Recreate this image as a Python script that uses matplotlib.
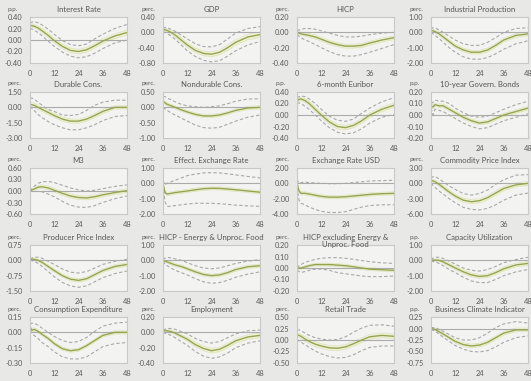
import numpy as np
import matplotlib.pyplot as plt

# ============================================================
# DATA
# ============================================================
months = [0, 1, 2, 4, 6, 9, 12, 16, 20, 24, 28, 32, 36, 42, 48]

titles = ["Interest Rate", "GDP", "HICP", "Industrial Production",
          "Durable Cons.", "Nondurable Cons.", "6-month Euribor", "10-year Govern. Bonds",
          "M3", "Effect. Exchange Rate", "Exchange Rate USD", "Commodity Price Index",
          "Producer Price Index", "HICP - Energy & Unproc. Food",
          "HICP excluding Energy &\nUnproc. Food", "Capacity Utilization",
          "Consumption Expenditure", "Employment", "Retail Trade", "Business Climate Indicator"]

units = ["p.p.", "perc.", "perc.", "perc.",
         "perc.", "perc.", "p.p.", "p.p.",
         "perc.", "perc.", "perc.", "perc.",
         "perc.", "perc.", "perc.", "p.p.",
         "perc.", "perc.", "perc.", "p.p."]

ymin = [-0.40, -0.80, -0.40, -2.00, -3.00, -1.00, -0.40, -0.20, -0.60, -2.00,
        -4.00, -6.00, -1.50, -2.00, -0.20, -2.00, -0.30, -0.40, -0.50, -0.75]
ymax = [0.40, 0.40, 0.20, 1.00, 1.50, 0.50, 0.40, 0.20, 0.60, 1.00,
        2.00, 3.00, 0.75, 1.00, 0.20, 1.00, 0.15, 0.20, 0.50, 0.25]
ystep = [0.20, 0.40, 0.20, 1.00, 1.50, 0.50, 0.20, 0.10, 0.30, 1.00,
         2.00, 3.00, 0.75, 1.00, 0.10, 1.00, 0.15, 0.20, 0.25, 0.25]

median = [
    [0.25, 0.25, 0.24, 0.21, 0.16, 0.08, -0.01, -0.11, -0.18, -0.20, -0.17, -0.10, -0.02, 0.07, 0.13],
    [0.05, 0.07, 0.05, 0.00, -0.07, -0.20, -0.33, -0.47, -0.55, -0.57, -0.52, -0.40, -0.26, -0.12, -0.06],
    [0.00, -0.01, -0.02, -0.03, -0.04, -0.06, -0.09, -0.13, -0.16, -0.18, -0.18, -0.17, -0.14, -0.10, -0.07],
    [0.10, 0.10, 0.05, -0.10, -0.30, -0.60, -0.90, -1.15, -1.30, -1.30, -1.15, -0.85, -0.50, -0.20, -0.10],
    [0.30, 0.25, 0.20, 0.00, -0.20, -0.50, -0.80, -1.15, -1.35, -1.35, -1.15, -0.80, -0.40, 0.00, 0.00],
    [0.20, 0.15, 0.10, 0.05, 0.00, -0.08, -0.15, -0.23, -0.28, -0.28, -0.25, -0.18, -0.10, -0.02, 0.00],
    [0.25, 0.27, 0.28, 0.25, 0.20, 0.10, 0.00, -0.12, -0.20, -0.22, -0.18, -0.10, 0.00, 0.10, 0.17],
    [0.08, 0.07, 0.09, 0.08, 0.08, 0.05, 0.02, -0.02, -0.05, -0.07, -0.06, -0.03, 0.00, 0.03, 0.06],
    [0.00, 0.03, 0.05, 0.10, 0.11, 0.08, 0.02, -0.06, -0.13, -0.17, -0.18, -0.15, -0.10, -0.04, 0.01],
    [0.00, -0.60, -0.70, -0.65, -0.60, -0.55, -0.50, -0.42, -0.35, -0.32, -0.33, -0.37, -0.42, -0.50, -0.58],
    [0.00, -1.00, -1.30, -1.30, -1.40, -1.55, -1.70, -1.80, -1.80, -1.75, -1.65, -1.55, -1.45, -1.35, -1.30],
    [0.50, 0.50, 0.30, -0.20, -0.80, -1.70, -2.50, -3.30, -3.60, -3.40, -2.80, -1.90, -1.00, -0.30, 0.00],
    [0.05, 0.05, 0.05, 0.00, -0.10, -0.30, -0.50, -0.75, -0.92, -0.98, -0.90, -0.70, -0.50, -0.30, -0.20],
    [0.00, -0.05, -0.10, -0.20, -0.30, -0.40, -0.55, -0.75, -0.92, -1.00, -0.95, -0.80, -0.60, -0.42, -0.35],
    [0.00, 0.00, 0.00, 0.01, 0.02, 0.03, 0.03, 0.03, 0.025, 0.02, 0.01, 0.00, -0.01, -0.015, -0.02],
    [0.00, 0.01, 0.02, 0.00, -0.10, -0.30, -0.50, -0.75, -0.95, -1.05, -1.00, -0.80, -0.55, -0.30, -0.20],
    [0.05, 0.02, 0.03, 0.01, -0.02, -0.06, -0.11, -0.16, -0.18, -0.17, -0.13, -0.08, -0.03, 0.00, 0.00],
    [0.02, 0.02, 0.02, 0.01, -0.01, -0.05, -0.09, -0.16, -0.21, -0.24, -0.22, -0.17, -0.11, -0.06, -0.04],
    [0.12, 0.10, 0.08, 0.02, -0.03, -0.09, -0.13, -0.17, -0.18, -0.15, -0.08, 0.00, 0.07, 0.10, 0.08],
    [0.00, -0.01, -0.02, -0.07, -0.12, -0.20, -0.28, -0.35, -0.38, -0.36, -0.30, -0.20, -0.10, -0.03, -0.03],
]

outer_hi = [
    [0.30, 0.31, 0.32, 0.30, 0.26, 0.19, 0.10, -0.01, -0.08, -0.10, -0.07, 0.02, 0.10, 0.20, 0.27],
    [0.10, 0.13, 0.12, 0.08, 0.03, -0.07, -0.17, -0.30, -0.37, -0.38, -0.32, -0.17, -0.02, 0.10, 0.15],
    [0.02, 0.03, 0.04, 0.05, 0.05, 0.04, 0.02, -0.01, -0.04, -0.06, -0.06, -0.05, -0.03, -0.01, 0.00],
    [0.20, 0.30, 0.30, 0.15, 0.00, -0.25, -0.50, -0.75, -0.85, -0.85, -0.65, -0.35, 0.00, 0.25, 0.30],
    [0.90, 0.90, 0.80, 0.50, 0.20, -0.20, -0.40, -0.75, -0.80, -0.70, -0.30, 0.20, 0.50, 0.70, 0.70],
    [0.35, 0.35, 0.30, 0.25, 0.18, 0.10, 0.05, 0.02, 0.00, 0.02, 0.05, 0.12, 0.20, 0.27, 0.28],
    [0.30, 0.32, 0.33, 0.32, 0.28, 0.20, 0.10, -0.02, -0.09, -0.11, -0.07, 0.03, 0.12, 0.23, 0.30],
    [0.10, 0.11, 0.13, 0.12, 0.12, 0.10, 0.06, 0.02, -0.01, -0.02, -0.01, 0.02, 0.05, 0.09, 0.12],
    [0.00, 0.07, 0.12, 0.20, 0.24, 0.25, 0.22, 0.15, 0.08, 0.03, 0.00, 0.02, 0.06, 0.12, 0.16],
    [0.20, -0.10, 0.00, 0.10, 0.20, 0.35, 0.50, 0.60, 0.68, 0.70, 0.68, 0.62, 0.55, 0.45, 0.35],
    [0.50, 0.00, 0.10, 0.15, 0.10, 0.05, 0.00, -0.05, -0.05, 0.00, 0.10, 0.20, 0.30, 0.35, 0.40],
    [1.00, 1.30, 1.30, 0.90, 0.30, -0.50, -1.20, -2.00, -2.30, -2.00, -1.30, -0.20, 0.70, 1.60, 1.70],
    [0.08, 0.12, 0.15, 0.15, 0.10, -0.05, -0.20, -0.42, -0.58, -0.62, -0.55, -0.38, -0.20, -0.05, 0.05],
    [0.05, 0.15, 0.20, 0.15, 0.10, 0.00, -0.15, -0.35, -0.50, -0.55, -0.50, -0.35, -0.20, -0.05, 0.05],
    [0.00, 0.02, 0.03, 0.05, 0.06, 0.075, 0.085, 0.09, 0.09, 0.085, 0.075, 0.065, 0.055, 0.045, 0.04],
    [0.05, 0.15, 0.20, 0.20, 0.12, -0.05, -0.25, -0.50, -0.65, -0.70, -0.60, -0.40, -0.15, 0.05, 0.20],
    [0.08, 0.09, 0.09, 0.07, 0.04, 0.00, -0.04, -0.08, -0.10, -0.09, -0.05, 0.01, 0.06, 0.09, 0.10],
    [0.03, 0.04, 0.05, 0.05, 0.04, 0.01, -0.02, -0.08, -0.12, -0.14, -0.12, -0.07, -0.02, 0.02, 0.03],
    [0.22, 0.22, 0.20, 0.15, 0.10, 0.05, 0.02, 0.00, 0.01, 0.07, 0.17, 0.26, 0.32, 0.33, 0.30],
    [0.02, 0.02, 0.02, -0.02, -0.06, -0.13, -0.20, -0.25, -0.25, -0.20, -0.10, 0.02, 0.10, 0.15, 0.12],
]

outer_lo = [
    [0.20, 0.19, 0.17, 0.13, 0.07, -0.02, -0.11, -0.21, -0.28, -0.31, -0.29, -0.23, -0.15, -0.05, 0.00],
    [0.00, 0.00, -0.03, -0.10, -0.18, -0.33, -0.48, -0.63, -0.73, -0.77, -0.74, -0.62, -0.48, -0.33, -0.24],
    [-0.03, -0.05, -0.07, -0.10, -0.12, -0.16, -0.20, -0.25, -0.29, -0.31, -0.31, -0.29, -0.26, -0.21, -0.16],
    [0.00, -0.10, -0.20, -0.40, -0.65, -1.00, -1.30, -1.60, -1.75, -1.75, -1.65, -1.40, -1.10, -0.75, -0.55],
    [0.10, -0.10, -0.30, -0.70, -1.00, -1.40, -1.70, -2.00, -2.20, -2.20, -2.00, -1.70, -1.30, -0.90, -0.80],
    [0.00, -0.05, -0.10, -0.18, -0.25, -0.35, -0.45, -0.58, -0.66, -0.68, -0.65, -0.55, -0.45, -0.32, -0.25],
    [0.20, 0.21, 0.20, 0.15, 0.10, 0.00, -0.10, -0.22, -0.30, -0.33, -0.31, -0.24, -0.14, -0.04, 0.01],
    [0.06, 0.00, 0.05, 0.04, 0.03, 0.00, -0.03, -0.07, -0.10, -0.12, -0.11, -0.08, -0.05, -0.02, 0.01],
    [0.00, -0.01, -0.02, -0.01, -0.02, -0.08, -0.15, -0.27, -0.37, -0.42, -0.43, -0.38, -0.30, -0.20, -0.13],
    [-0.10, -1.20, -1.50, -1.50, -1.45, -1.40, -1.35, -1.30, -1.30, -1.30, -1.33, -1.37, -1.42, -1.47, -1.50],
    [-0.50, -2.20, -2.60, -2.80, -3.10, -3.40, -3.65, -3.80, -3.80, -3.70, -3.40, -3.10, -2.90, -2.80, -2.80],
    [0.00, -0.40, -0.80, -1.50, -2.10, -3.00, -3.80, -4.70, -5.10, -5.20, -4.90, -4.20, -3.30, -2.30, -1.90],
    [0.00, -0.02, -0.05, -0.15, -0.30, -0.55, -0.80, -1.08, -1.25, -1.32, -1.25, -1.05, -0.85, -0.65, -0.52],
    [-0.05, -0.25, -0.35, -0.50, -0.65, -0.80, -0.95, -1.20, -1.40, -1.50, -1.45, -1.30, -1.10, -0.90, -0.75],
    [-0.02, -0.03, -0.04, -0.03, -0.02, -0.01, -0.01, -0.02, -0.04, -0.05, -0.06, -0.07, -0.075, -0.075, -0.07],
    [-0.05, -0.08, -0.10, -0.20, -0.35, -0.60, -0.80, -1.10, -1.35, -1.45, -1.45, -1.25, -1.00, -0.75, -0.60],
    [0.02, -0.01, -0.03, -0.06, -0.10, -0.14, -0.19, -0.24, -0.26, -0.26, -0.24, -0.19, -0.14, -0.11, -0.10],
    [0.00, -0.01, -0.02, -0.04, -0.07, -0.12, -0.17, -0.25, -0.31, -0.34, -0.32, -0.27, -0.20, -0.14, -0.11],
    [0.02, -0.02, -0.05, -0.10, -0.16, -0.24, -0.30, -0.36, -0.39, -0.38, -0.32, -0.23, -0.16, -0.13, -0.13],
    [-0.02, -0.04, -0.06, -0.12, -0.19, -0.28, -0.37, -0.45, -0.50, -0.51, -0.48, -0.40, -0.30, -0.20, -0.16],
]

inner_hi = [
    [0.27, 0.28, 0.27, 0.24, 0.20, 0.12, 0.03, -0.07, -0.14, -0.16, -0.13, -0.06, 0.02, 0.11, 0.17],
    [0.07, 0.10, 0.09, 0.05, -0.01, -0.14, -0.27, -0.41, -0.49, -0.51, -0.46, -0.33, -0.19, -0.05, 0.01],
    [0.01, 0.01, 0.00, -0.01, -0.015, -0.035, -0.065, -0.105, -0.135, -0.155, -0.155, -0.145, -0.115, -0.075, -0.045],
    [0.15, 0.20, 0.15, 0.02, -0.18, -0.48, -0.78, -1.03, -1.18, -1.18, -1.03, -0.73, -0.38, -0.08, 0.02],
    [0.45, 0.45, 0.40, 0.20, 0.00, -0.30, -0.60, -0.95, -1.15, -1.15, -0.95, -0.60, -0.20, 0.15, 0.15],
    [0.25, 0.20, 0.15, 0.10, 0.05, -0.03, -0.10, -0.18, -0.23, -0.23, -0.20, -0.13, -0.05, 0.03, 0.05],
    [0.27, 0.30, 0.31, 0.28, 0.24, 0.14, 0.04, -0.08, -0.16, -0.18, -0.14, -0.06, 0.04, 0.14, 0.21],
    [0.09, 0.09, 0.10, 0.095, 0.095, 0.065, 0.035, -0.005, -0.035, -0.055, -0.045, -0.015, 0.015, 0.045, 0.075],
    [0.00, 0.05, 0.08, 0.14, 0.16, 0.13, 0.07, -0.01, -0.08, -0.12, -0.13, -0.10, -0.05, 0.01, 0.06],
    [0.05, -0.50, -0.60, -0.55, -0.50, -0.45, -0.40, -0.32, -0.25, -0.22, -0.23, -0.27, -0.32, -0.40, -0.48],
    [0.10, -0.80, -1.10, -1.10, -1.20, -1.35, -1.50, -1.60, -1.60, -1.55, -1.45, -1.35, -1.25, -1.15, -1.10],
    [0.70, 0.80, 0.60, 0.15, -0.45, -1.35, -2.15, -2.90, -3.20, -3.00, -2.40, -1.50, -0.60, 0.10, 0.40],
    [0.07, 0.09, 0.10, 0.06, -0.03, -0.22, -0.42, -0.67, -0.84, -0.90, -0.82, -0.62, -0.42, -0.22, -0.12],
    [0.03, 0.02, -0.02, -0.10, -0.20, -0.30, -0.45, -0.65, -0.82, -0.90, -0.85, -0.70, -0.50, -0.32, -0.25],
    [0.005, 0.01, 0.01, 0.02, 0.03, 0.04, 0.042, 0.042, 0.037, 0.032, 0.022, 0.012, 0.002, -0.003, -0.008],
    [0.03, 0.06, 0.08, 0.08, -0.02, -0.20, -0.38, -0.63, -0.83, -0.93, -0.88, -0.68, -0.43, -0.18, -0.08],
    [0.06, 0.04, 0.045, 0.025, -0.005, -0.045, -0.095, -0.145, -0.165, -0.155, -0.115, -0.065, -0.015, 0.015, 0.015],
    [0.03, 0.03, 0.035, 0.03, 0.01, -0.03, -0.065, -0.13, -0.18, -0.21, -0.19, -0.14, -0.08, -0.03, -0.01],
    [0.16, 0.14, 0.12, 0.07, 0.02, -0.04, -0.08, -0.12, -0.13, -0.10, -0.03, 0.05, 0.12, 0.15, 0.13],
    [0.01, 0.01, 0.00, -0.04, -0.09, -0.17, -0.24, -0.31, -0.34, -0.32, -0.26, -0.16, -0.06, 0.01, 0.01],
]

inner_lo = [
    [0.23, 0.22, 0.21, 0.18, 0.12, 0.04, -0.05, -0.15, -0.22, -0.24, -0.21, -0.14, -0.06, 0.03, 0.09],
    [0.03, 0.04, 0.01, -0.05, -0.13, -0.26, -0.39, -0.53, -0.61, -0.63, -0.58, -0.47, -0.33, -0.19, -0.13],
    [-0.01, -0.03, -0.04, -0.05, -0.065, -0.085, -0.115, -0.155, -0.185, -0.205, -0.205, -0.195, -0.165, -0.125, -0.095],
    [0.05, 0.00, -0.05, -0.22, -0.42, -0.72, -1.02, -1.27, -1.42, -1.42, -1.27, -0.97, -0.62, -0.32, -0.22],
    [0.15, 0.05, 0.00, -0.20, -0.40, -0.70, -1.00, -1.35, -1.55, -1.55, -1.35, -1.00, -0.60, -0.15, -0.15],
    [0.15, 0.10, 0.05, 0.00, -0.05, -0.13, -0.20, -0.28, -0.33, -0.33, -0.30, -0.23, -0.15, -0.07, -0.05],
    [0.23, 0.24, 0.25, 0.22, 0.16, 0.06, -0.04, -0.16, -0.24, -0.26, -0.22, -0.14, -0.04, 0.06, 0.13],
    [0.07, 0.05, 0.08, 0.065, 0.065, 0.035, 0.005, -0.035, -0.065, -0.085, -0.075, -0.045, -0.015, 0.015, 0.045],
    [0.00, 0.01, 0.02, 0.06, 0.06, 0.03, -0.03, -0.11, -0.18, -0.22, -0.23, -0.20, -0.15, -0.09, -0.04],
    [-0.05, -0.70, -0.80, -0.75, -0.70, -0.65, -0.60, -0.52, -0.45, -0.42, -0.43, -0.47, -0.52, -0.60, -0.68],
    [-0.10, -1.20, -1.50, -1.50, -1.60, -1.75, -1.90, -2.00, -2.00, -1.95, -1.85, -1.75, -1.65, -1.55, -1.50],
    [0.30, 0.20, 0.00, -0.55, -1.15, -2.05, -2.85, -3.70, -4.00, -3.80, -3.20, -2.30, -1.40, -0.70, -0.40],
    [0.03, 0.01, 0.00, -0.06, -0.17, -0.38, -0.58, -0.83, -1.00, -1.06, -0.98, -0.78, -0.58, -0.38, -0.28],
    [-0.03, -0.12, -0.18, -0.30, -0.40, -0.50, -0.65, -0.85, -1.02, -1.10, -1.05, -0.90, -0.70, -0.52, -0.45],
    [-0.005, -0.01, -0.01, 0.00, 0.01, 0.02, 0.018, 0.018, 0.013, 0.008, -0.002, -0.012, -0.022, -0.027, -0.032],
    [-0.03, -0.04, -0.04, -0.08, -0.18, -0.40, -0.62, -0.87, -1.07, -1.17, -1.12, -0.92, -0.67, -0.42, -0.32],
    [0.04, 0.00, 0.015, -0.005, -0.035, -0.075, -0.125, -0.175, -0.195, -0.185, -0.145, -0.095, -0.045, -0.015, -0.015],
    [0.01, 0.01, 0.005, -0.01, -0.03, -0.07, -0.115, -0.19, -0.24, -0.27, -0.25, -0.20, -0.14, -0.09, -0.07],
    [0.08, 0.06, 0.04, -0.03, -0.08, -0.14, -0.18, -0.22, -0.23, -0.20, -0.13, -0.05, 0.02, 0.05, 0.03],
    [-0.01, -0.03, -0.04, -0.10, -0.15, -0.23, -0.32, -0.39, -0.42, -0.40, -0.34, -0.24, -0.14, -0.07, -0.07],
]

xticks = [0, 12, 24, 36, 48]

# ============================================================
# LAYOUT (pixel positions of the plot boxes)
# ============================================================
W, H = 531, 381
col_x = [30, 163, 297, 431]
row_y = [17, 92, 168, 245, 317]
bw, bh = 97, 46

plt.rcParams['font.family'] = ['Lato', 'DejaVu Sans']

fig = plt.figure(figsize=(W / 100, H / 100), dpi=100, facecolor='#e8e8e6')

for i in range(20):
    r, c = divmod(i, 4)
    x0, y0 = col_x[c], row_y[r]
    ax = fig.add_axes([x0 / W, 1 - (y0 + bh) / H, bw / W, bh / H])
    ax.set_facecolor('#f3f3f1')

    # inner band
    ax.fill_between(months, inner_lo[i], inner_hi[i], color='#f0f0d6', lw=0)
    ax.plot(months, inner_hi[i], color='#e0e2bc', lw=0.5)
    ax.plot(months, inner_lo[i], color='#e0e2bc', lw=0.5)
    ax.axhline(0, color='#ababab', lw=0.8)
    # outer dashed bands
    ax.plot(months, outer_hi[i], color='#a8a8a8', lw=0.8, ls=(0, (3, 2)))
    ax.plot(months, outer_lo[i], color='#a8a8a8', lw=0.8, ls=(0, (3, 2)))
    # median
    ax.plot(months, median[i], color='#93a64f', lw=1.0)

    ax.set_xlim(0, 48)
    ax.set_ylim(ymin[i], ymax[i])
    yt = np.arange(ymin[i], ymax[i] + ystep[i] / 2, ystep[i])
    ax.set_yticks(yt)
    ax.set_yticklabels([f"{v:.2f}" if abs(v) > 1e-9 else "0.00" for v in yt])
    ax.set_xticks(xticks)
    ax.set_xticklabels([str(v) for v in xticks])
    ax.tick_params(axis='both', length=0, labelsize=5.3, colors='#5a5a5a')
    ax.tick_params(axis='x', pad=4.8)
    ax.tick_params(axis='y', pad=5.5)
    for s in ax.spines.values():
        s.set_color('#c8c8c8')
        s.set_linewidth(0.8)

    fig.text((x0 + bw / 2) / W, 1 - (y0 - 11) / H, titles[i], ha='center', va='top',
             fontsize=5.6, color='#555555', linespacing=1.05)
    fig.text((x0 - 22) / W, 1 - (y0 - 8) / H, units[i], ha='left', va='center',
             fontsize=4.6, color='#5a5a5a')

fig.savefig('out.png', dpi=100, facecolor=fig.get_facecolor())
